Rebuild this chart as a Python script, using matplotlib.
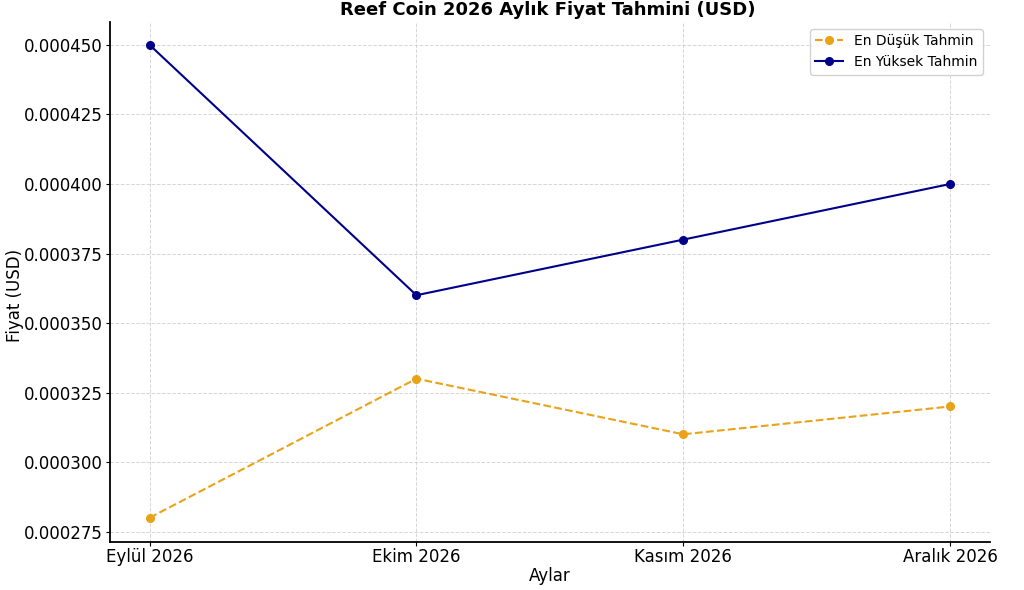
import matplotlib
matplotlib.use("Agg")
from matplotlib import pyplot as plt

# Veriler
aylar = ["Eylül 2026", "Ekim 2026", "Kasım 2026", "Aralık 2026"]
en_dusuk = [0.000280, 0.000330, 0.000310, 0.000320]
en_yuksek = [0.000450, 0.000360, 0.000380, 0.000400]

fig = plt.figure(figsize=(10.24, 5.9), dpi=100)
ax = fig.add_axes([0.107, 0.081, 0.86, 0.882])

x = range(len(aylar))
ax.plot(x, en_dusuk, '--o', color='#e8a317', markersize=5.5, linewidth=1.5,
        label='En Düşük Tahmin')
ax.plot(x, en_yuksek, '-o', color='#00008b', markersize=5.5, linewidth=1.5,
        label='En Yüksek Tahmin')

ax.set_xticks(list(x))
ax.set_xticklabels(aylar, fontsize=12)
ax.set_yticks([0.000275, 0.000300, 0.000325, 0.000350, 0.000375,
               0.000400, 0.000425, 0.000450])
ax.set_yticklabels([f"{v:.6f}" for v in ax.get_yticks()], fontsize=12)
ax.tick_params(axis='x', pad=1, length=3)
ax.tick_params(axis='y', pad=2, length=3)
ax.set_xlim(-0.15, 3.15)
ax.set_ylim(0.0002712, 0.0004583)

ax.spines['top'].set_visible(False)
ax.spines['right'].set_visible(False)
ax.spines['left'].set_linewidth(1.3)
ax.spines['bottom'].set_linewidth(1.3)
ax.grid(True, linestyle='--', color='#cccccc', linewidth=0.7, alpha=0.8)

ax.set_xlabel("Aylar", fontsize=12, labelpad=1)
fig.text(0.006, 0.5, "Fiyat (USD)", rotation=90, va='center', ha='left',
         fontsize=12)
fig.text(0.535, 0.998, "Reef Coin 2026 Aylık Fiyat Tahmini (USD)",
         ha='center', va='top', fontsize=13, fontweight='bold')

ax.legend(loc='upper right', fontsize=10, framealpha=0.9)

fig.savefig("out.png", dpi=100)
